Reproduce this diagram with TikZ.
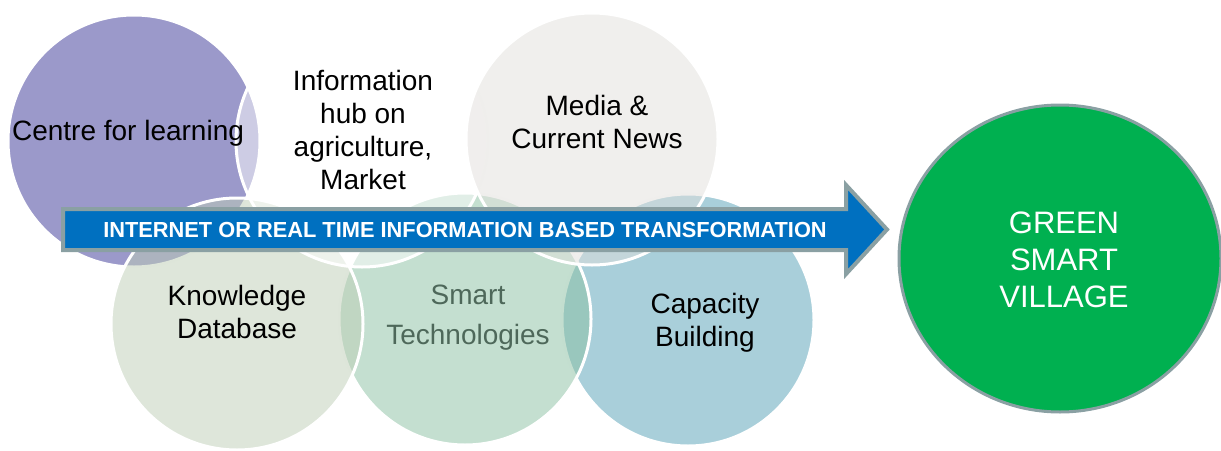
\documentclass[tikz,border=0pt]{standalone}
\usepackage{fontspec}
\setmainfont{Liberation Sans}
\usetikzlibrary{shapes.geometric}
\definecolor{cpurple}{RGB}{155,153,202}
\definecolor{cknow}{RGB}{189,205,181}
\definecolor{csmart}{RGB}{137,191,161}
\definecolor{ccap}{RGB}{83,159,181}
\definecolor{cmedia}{RGB}{225,223,219}
\definecolor{cgreen}{RGB}{0,176,80}
\definecolor{carrow}{RGB}{0,112,192}
\definecolor{cedge}{RGB}{138,160,163}
\definecolor{csmarttext}{RGB}{78,104,90}
\tikzset{
  venn/.style={circle, minimum size=252pt, inner sep=0pt, draw=white, line width=3pt, fill opacity=0.5},
  lbl/.style={align=center, inner sep=0pt, font=\fontsize{28}{33}\selectfont},
}
\begin{document}
\begin{tikzpicture}[x=1pt,y=-1pt]
\useasboundingbox (0,0) rectangle (1221,450);
% circles
\node[venn, fill=cpurple, fill opacity=1] (learn) at (134,141) {};
\node[venn, fill=ccap] (cap) at (688,320) {};
\node[venn, fill=csmart] (smart) at (465,319) {};
\node[venn, fill=cknow] (know) at (237,324) {};
\node[venn, fill=white] (hub) at (362,141) {};
\node[venn, fill=cmedia] (media) at (592,139) {};
% arrow
\draw[draw=cedge, line width=4pt, fill=carrow, line join=miter]
  (63,209) -- (846,209) -- (846,185) -- (887,229.5) -- (846,274) -- (846,250) -- (63,250) -- cycle;
\node[text=white, font=\fontsize{21.8}{24}\selectfont\bfseries, inner sep=0pt] (arrowtext) at (465,229.5) {INTERNET OR REAL TIME INFORMATION BASED TRANSFORMATION};
% green
\node[ellipse, minimum width=322pt, minimum height=307pt, fill=cgreen, draw=cedge, line width=3pt, inner sep=0pt] (green) at (1060,258.5) {};
\node[lbl, text=white, font=\fontsize{31}{37}\selectfont] (greentext) at (1064,260) {GREEN\\SMART\\VILLAGE};
% labels
\node[lbl] (learntext) at (128,133) {Centre for learning};
\node[lbl] (hubtext) at (363,130) {Information\\hub on\\agriculture,\\Market};
\node[lbl] (mediatext) at (597,122) {Media \&\\Current News};
\node[lbl] (knowtext) at (237,312) {Knowledge\\Database};
\node[lbl, text=csmarttext, font=\fontsize{28}{40}\selectfont] (smarttext) at (468,318) {Smart\\Technologies};
\node[lbl] (captext) at (705,323) {Capacity\\Building};
\end{tikzpicture}
\end{document}
